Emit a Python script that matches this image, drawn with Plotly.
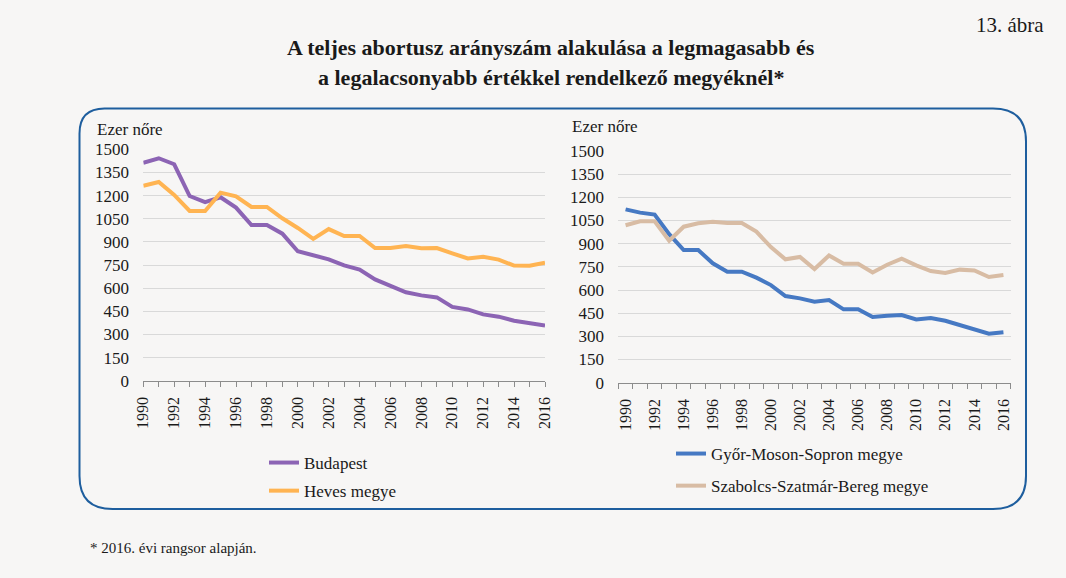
import plotly.graph_objects as go

years = list(range(1990, 2017))
year_labels = [str(y) if y % 2 == 0 else "" for y in years]
y_ticks = [0, 150, 300, 450, 600, 750, 900, 1050, 1200, 1350, 1500]

budapest = [1413, 1442, 1403, 1197, 1158, 1189, 1122, 1009, 1009, 953, 839, 815, 787, 748, 720,
            657, 614, 573, 553, 540, 478, 462, 430, 415, 389, 376, 357]
heves = [1264, 1288, 1204, 1100, 1100, 1219, 1195, 1126, 1126, 1053, 990, 919, 983, 938, 938,
         860, 860, 873, 858, 860, 826, 793, 804, 785, 746, 745, 765]
gyor = [1122, 1101, 1088, 962, 859, 859, 773, 719, 719, 680, 632, 561, 546, 524, 535,
        475, 475, 425, 434, 438, 410, 419, 401, 373, 343, 317, 326]
szabolcs = [1019, 1045, 1045, 919, 1010, 1032, 1042, 1034, 1034, 978, 878, 799, 814, 736, 824,
            770, 770, 714, 764, 803, 760, 723, 710, 732, 727, 684, 697]

# page is 1066x578; body keeps its default 8px margin, so the figure is 1050x562 at (8, 8)
OFF = 8
W, H = 1050, 562
FONT = "Liberation Serif"
BG = "#F7F6F5"
GRID = "#D9D9D9"
AX = "#8C8C8C"
TXT = "#1A1A1A"


def fx(px):
    return (px - OFF) / W


def fy(py):
    return 1 - (py - OFF) / H


fig = go.Figure()
fig.add_trace(go.Scatter(x=years, y=budapest, name="Budapest", mode="lines",
                         line=dict(color="#8C64B4", width=4), xaxis="x", yaxis="y",
                         legend="legend", legendgroup="a"))
fig.add_trace(go.Scatter(x=years, y=heves, name="Heves megye", mode="lines",
                         line=dict(color="#FFB452", width=4), xaxis="x", yaxis="y",
                         legend="legend", legendgroup="b"))
fig.add_trace(go.Scatter(x=years, y=gyor, name="Győr-Moson-Sopron megye", mode="lines",
                         line=dict(color="#4679C3", width=4), xaxis="x2", yaxis="y2",
                         legend="legend2", legendgroup="c"))
fig.add_trace(go.Scatter(x=years, y=szabolcs, name="Szabolcs-Szatmár-Bereg megye", mode="lines",
                         line=dict(color="#D8BCA4", width=4), xaxis="x2", yaxis="y2",
                         legend="legend2", legendgroup="d"))

yaxis_common = dict(range=[0, 1500], tickmode="array", tickvals=y_ticks, showgrid=True,
                    gridcolor=GRID, gridwidth=1, zeroline=False, showline=False,
                    ticks="outside", ticklen=10, tickcolor="rgba(0,0,0,0)", automargin=False,
                    tickfont=dict(family=FONT, size=17, color=TXT), fixedrange=True)

xaxis_common = dict(tickmode="array", tickvals=years, ticktext=year_labels, tickangle=-90,
                    showgrid=False, zeroline=False, showline=True, linecolor=AX, linewidth=1,
                    ticks="outside", ticklen=5, ticklabelstandoff=4, automargin=False,
                    tickfont=dict(family=FONT, size=16, color=TXT), fixedrange=True)

fig.update_layout(
    width=W, height=H,
    margin=dict(l=0, r=0, t=0, b=0, pad=0, autoexpand=False),
    paper_bgcolor=BG, plot_bgcolor=BG,
    xaxis=dict(domain=[fx(143.3), fx(545)], range=[1990, 2016], tickcolor=AX, anchor="y",
               **xaxis_common),
    yaxis=dict(domain=[fy(380.7), fy(149.3)], anchor="x", **yaxis_common),
    xaxis2=dict(domain=[fx(618.3), fx(1010.7)], range=[1989.5, 2016.5],
                tickcolor="rgba(0,0,0,0)",
                minor=dict(tickmode="array", tickvals=[y - 0.5 for y in years] + [2016.5],
                           ticks="outside", ticklen=5, tickcolor=AX, showgrid=False),
                anchor="y2", **xaxis_common),
    yaxis2=dict(domain=[fy(382.7), fy(151)], anchor="x2", **yaxis_common),
    legend=dict(x=fx(264), y=fy(445), xanchor="left", yanchor="top",
                font=dict(family=FONT, size=17, color=TXT), bgcolor="rgba(0,0,0,0)",
                tracegroupgap=3, traceorder="grouped"),
    legend2=dict(x=fx(671), y=fy(436), xanchor="left", yanchor="top",
                 font=dict(family=FONT, size=17, color=TXT), bgcolor="rgba(0,0,0,0)",
                 tracegroupgap=7, traceorder="grouped"),
    showlegend=True,
)

# rounded frame
x0, x1, y0, y1 = 79.5, 1026, 108.5, 509
r1, r = 25, 33
path = (f"M {fx(x0)},{fy(y0 + r1)} Q {fx(x0)},{fy(y0)} {fx(x0 + r1)},{fy(y0)} "
        f"L {fx(x1 - r)},{fy(y0)} Q {fx(x1)},{fy(y0)} {fx(x1)},{fy(y0 + r)} "
        f"L {fx(x1)},{fy(y1 - r)} Q {fx(x1)},{fy(y1)} {fx(x1 - r)},{fy(y1)} "
        f"L {fx(x0 + r)},{fy(y1)} Q {fx(x0)},{fy(y1)} {fx(x0)},{fy(y1 - r)} Z")
fig.add_shape(type="path", path=path, xref="paper", yref="paper",
              line=dict(color="#1E5E9E", width=2), layer="below")

ann = [
    dict(text="13. ábra", x=fx(1046), y=fy(25), xanchor="right", yanchor="middle",
         font=dict(family=FONT, size=21, color=TXT)),
    dict(text="<b>A teljes abortusz arányszám alakulása a legmagasabb és</b>", x=fx(551), y=fy(48),
         xanchor="center", yanchor="middle", font=dict(family=FONT, size=22, color=TXT)),
    dict(text="<b>a legalacsonyabb értékkel rendelkező megyéknél*</b>", x=fx(551), y=fy(77),
         xanchor="center", yanchor="middle", font=dict(family=FONT, size=22, color=TXT)),
    dict(text="Ezer nőre", x=fx(95), y=fy(130), xanchor="left", yanchor="middle",
         font=dict(family=FONT, size=17, color=TXT)),
    dict(text="Ezer nőre", x=fx(570), y=fy(126), xanchor="left", yanchor="middle",
         font=dict(family=FONT, size=17, color=TXT)),
    dict(text="* 2016. évi rangsor alapján.", x=fx(88), y=fy(548), xanchor="left", yanchor="middle",
         font=dict(family=FONT, size=15, color=TXT)),
]
for a in ann:
    fig.add_annotation(xref="paper", yref="paper", showarrow=False, **a)

fig.write_html("out.html", config={"displayModeBar": False},
               post_script="document.body.style.background='#F7F6F5';")
